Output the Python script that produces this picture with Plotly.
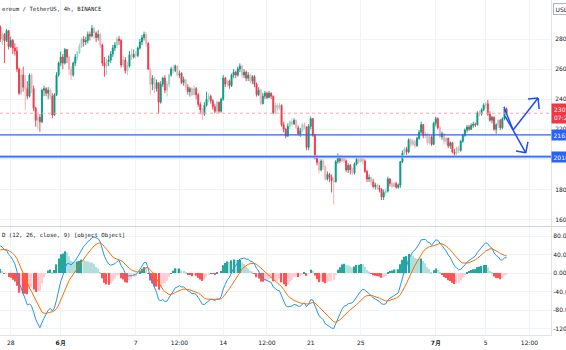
import plotly.graph_objects as go
from datetime import datetime, timedelta

# ---------------- data (ETH/USDT 4h) ----------------
start_time = datetime(2021, 5, 27, 4, 0)
first_open = 2880

closes = [
    2800, 2830, 2790, 2855, 2750, 2790, 2740, 2720, 2600, 2440,
    2560, 2480, 2470, 2420, 2560, 2470, 2340, 2260, 2280, 2250,
    2460, 2470, 2440, 2460, 2420, 2295, 2428, 2560, 2640, 2680,
    2640, 2730, 2680, 2600, 2560, 2640, 2680, 2710, 2750, 2800,
    2780, 2790, 2830, 2820, 2870, 2840, 2810, 2830, 2760, 2640,
    2620, 2650, 2660, 2700, 2740, 2760, 2800, 2790, 2627, 2660,
    2590, 2620, 2695, 2680, 2700, 2690, 2740, 2780, 2810, 2830,
    2770, 2600, 2500, 2540, 2470, 2510, 2380, 2500, 2540, 2460,
    2500, 2560, 2600, 2590, 2620, 2560, 2570, 2510, 2530, 2480,
    2450, 2470, 2430, 2470, 2430, 2365, 2330, 2300, 2360, 2400,
    2420, 2390, 2350, 2320, 2380, 2320, 2400, 2540, 2500, 2520,
    2490, 2560, 2580, 2560, 2600, 2620, 2560, 2580, 2540, 2560,
    2520, 2550, 2500, 2430, 2460, 2370, 2420, 2440, 2410, 2440,
    2420, 2310, 2360, 2340, 2360, 2230, 2200, 2155, 2220, 2250,
    2235, 2260, 2210, 2170, 2190, 2230, 2215, 2080, 2220, 2270,
    2160, 2010, 1980, 1930, 1990, 1950, 1870, 1900, 1880, 1860,
    1850, 1985, 2010, 1990, 2020, 1990, 1930, 1960, 1930, 1910,
    1970, 2000, 1985, 2005, 1990, 1920, 1870, 1880, 1850, 1820,
    1830, 1810, 1800, 1750, 1780, 1790, 1870, 1840, 1820, 1840,
    1815, 1830, 1985, 2040, 2070, 2050, 2130, 2100, 2120, 2090,
    2140, 2180, 2230, 2160, 2170, 2110, 2150, 2100, 2240, 2270,
    2210, 2150, 2170, 2120, 2140, 2090, 2110, 2050, 2040, 2075,
    2060, 2120, 2160, 2195, 2215, 2200, 2225, 2235, 2230, 2310,
    2300, 2330, 2360, 2370, 2300, 2260, 2280, 2200, 2230, 2260,
    2210, 2270, 2335, 2307,
]
highs = [
    2890, 2850, 2840, 2866, 2860, 2815, 2800, 2770, 2749, 2610,
    2600, 2616, 2561, 2520, 2572, 2570, 2490, 2350, 2300, 2300,
    2470, 2490, 2480, 2480, 2472, 2440, 2440, 2580, 2650, 2716,
    2700, 2740, 2730, 2690, 2620, 2650, 2700, 2720, 2770, 2810,
    2820, 2815, 2850, 2850, 2893, 2880, 2850, 2860, 2840, 2770,
    2680, 2670, 2690, 2720, 2760, 2780, 2815, 2820, 2800, 2690,
    2680, 2650, 2720, 2738, 2730, 2720, 2750, 2800, 2827, 2849,
    2845, 2780, 2610, 2560, 2550, 2530, 2510, 2520, 2550, 2561,
    2520, 2570, 2616, 2627, 2630, 2625, 2590, 2580, 2550, 2530,
    2500, 2483, 2480, 2490, 2480, 2440, 2380, 2340, 2380, 2450,
    2440, 2430, 2400, 2370, 2390, 2384, 2410, 2560, 2550, 2530,
    2530, 2570, 2600, 2590, 2616, 2638, 2630, 2600, 2590, 2580,
    2570, 2560, 2560, 2510, 2480, 2470, 2440, 2455, 2450, 2455,
    2445, 2425, 2380, 2373, 2375, 2365, 2250, 2210, 2240, 2260,
    2273, 2273, 2265, 2225, 2210, 2240, 2245, 2220, 2235, 2284,
    2275, 2170, 2030, 2000, 2000, 2000, 1960, 1920, 1910, 1900,
    1880, 1995, 2040, 2030, 2030, 2025, 2000, 1975, 1970, 1945,
    1980, 2010, 2010, 2018, 2018, 2000, 1930, 1900, 1885, 1870,
    1845, 1840, 1830, 1810, 1800, 1805, 1885, 1875, 1860, 1850,
    1852, 1840, 1990, 2060, 2080, 2084, 2140, 2140, 2135, 2130,
    2150, 2195, 2251, 2235, 2185, 2175, 2165, 2160, 2250, 2284,
    2280, 2220, 2185, 2175, 2150, 2145, 2120, 2115, 2070, 2085,
    2090, 2130, 2170, 2205, 2229, 2230, 2240, 2250, 2245, 2320,
    2325, 2340, 2373, 2380, 2395, 2320, 2290, 2285, 2240, 2265,
    2270, 2280, 2350, 2345,
]
lows = [
    2780, 2760, 2640, 2780, 2730, 2740, 2700, 2690, 2580, 2428,
    2430, 2450, 2328, 2400, 2410, 2440, 2320, 2217, 2200, 2184,
    2240, 2420, 2420, 2400, 2400, 2273, 2290, 2420, 2550, 2620,
    2600, 2630, 2640, 2560, 2527, 2550, 2620, 2660, 2700, 2740,
    2750, 2760, 2770, 2790, 2810, 2800, 2780, 2790, 2740, 2620,
    2550, 2560, 2620, 2640, 2680, 2720, 2740, 2760, 2610, 2610,
    2570, 2560, 2610, 2660, 2670, 2672, 2680, 2730, 2760, 2790,
    2750, 2594, 2428, 2460, 2440, 2450, 2302, 2370, 2480, 2440,
    2417, 2480, 2550, 2570, 2580, 2550, 2540, 2500, 2490, 2460,
    2430, 2417, 2420, 2430, 2400, 2350, 2300, 2262, 2290, 2350,
    2380, 2370, 2330, 2306, 2310, 2306, 2310, 2390, 2480, 2483,
    2470, 2480, 2540, 2540, 2550, 2580, 2540, 2540, 2520, 2520,
    2505, 2500, 2480, 2417, 2420, 2361, 2365, 2400, 2400, 2410,
    2400, 2300, 2300, 2320, 2330, 2217, 2180, 2140, 2150, 2200,
    2220, 2230, 2200, 2160, 2150, 2180, 2200, 2062, 2060, 2200,
    2150, 2000, 1960, 1907, 1920, 1930, 1860, 1860, 1850, 1780,
    1700, 1850, 1970, 1975, 1980, 1975, 1915, 1910, 1900, 1896,
    1900, 1960, 1970, 1980, 1970, 1910, 1850, 1850, 1830, 1808,
    1800, 1797, 1780, 1730, 1730, 1760, 1780, 1820, 1808, 1815,
    1805, 1805, 1810, 1975, 2030, 2030, 2040, 2080, 2090, 2073,
    2085, 2130, 2170, 2140, 2140, 2096, 2100, 2090, 2096, 2220,
    2200, 2140, 2130, 2100, 2096, 2075, 2070, 2040, 2018, 2030,
    2040, 2050, 2110, 2150, 2180, 2190, 2195, 2210, 2215, 2225,
    2285, 2290, 2320, 2340, 2290, 2250, 2240, 2190, 2170, 2210,
    2195, 2200, 2260, 2295,
]
# candles drawn in the pale (low-volume) shade
faded_idx = [
    1, 10, 12, 15, 18, 24, 33, 34, 37, 38, 39, 45, 48, 51, 56, 59, 61,
    63, 65, 70, 72, 74, 80, 81, 83, 85, 89, 92, 93, 97, 100, 104, 109, 116, 120,
    125, 132, 133, 134, 139, 140, 142, 145, 146, 153, 155, 156, 160, 164, 165,
    169, 172, 173, 174, 178, 181, 185, 188, 189, 194, 197, 198, 199, 204, 205,
    206, 211, 213, 214, 219, 220, 230, 233, 239,
]

# MACD (12, 26, close, 9) state carried in from before the visible window
ema_fast_init = 2815.0
ema_slow_init = 2750.0
signal_init = 48.0

# horizontal levels drawn on the chart
level_lines = [2163, 2018]
last_price = 2307

# hand-drawn arrows (time, price) polylines
arrow_strokes = [
    [("2021-07-06 11:00", 2348), ("2021-07-07 04:30", 2195), ("2021-07-09 04:30", 2408)],
    [("2021-07-06 13:00", 2288), ("2021-07-07 04:30", 2195), ("2021-07-08 04:50", 2044)],
    [("2021-07-08 09:00", 2401), ("2021-07-09 04:30", 2408), ("2021-07-09 06:30", 2335)],
    [("2021-07-07 10:00", 2056), ("2021-07-08 04:50", 2044), ("2021-07-08 09:00", 2116)],
]

x_ticks = ["2021-05-28", "2021-06-01", "2021-06-07", "2021-06-10 12:00", "2021-06-14",
           "2021-06-17 12:00", "2021-06-21", "2021-06-25", "2021-07-01", "2021-07-05",
           "2021-07-08 12:00"]
x_ticktext = ["28", "<b>6月</b>", "7", "12:00", "14", "12:00", "21", "25", "<b>7月</b>", "5", "12:00"]
price_ticks = [1600, 1800, 2000, 2200, 2400, 2600, 2800]
macd_ticks = [-120, -80, -40, 0, 40, 80]
macd_ticktext = ["-120.0", "-80.00", "-40.00", "0.00", "40.00", "80.00"]

# ---------------- derived ----------------
n = len(closes)
times = [start_time + timedelta(hours=4 * i) for i in range(n)]
opens = [first_open] + closes[:-1]
highs = [max(h, o, c) for h, o, c in zip(highs, opens, closes)]
lows = [min(l, o, c) for l, o, c in zip(lows, opens, closes)]

a12, a26, a9 = 2 / 13, 2 / 27, 2 / 10
ef, es, sg = ema_fast_init, ema_slow_init, signal_init
macd, signal, hist = [], [], []
for c in closes:
    ef = ef + a12 * (c - ef)
    es = es + a26 * (c - es)
    m = ef - es
    sg = sg + a9 * (m - sg)
    macd.append(m)
    signal.append(sg)
    hist.append(m - sg)

hist_colors = []
for i, h in enumerate(hist):
    prev = hist[i - 1] if i > 0 else h
    if h >= 0:
        hist_colors.append("#26A69A" if h >= prev else "#B2DFDB")
    else:
        hist_colors.append("#FF5252" if h < prev else "#FFCDD2")

GREEN = "#089981"
RED = "#F23645"
GREEN_PALE = "#8FD3CB"
RED_PALE = "#F9A9AF"
GRID = "#F0F3FA"
TXT = "#131722"
FONT = "DejaVu Sans"

faded_set = set(faded_idx)
groups = {
    "solid": [i for i in range(n) if i not in faded_set],
    "pale": [i for i in range(n) if i in faded_set],
}

fig = go.Figure()
for name, idx in groups.items():
    g, r = (GREEN, RED) if name == "solid" else (GREEN_PALE, RED_PALE)
    fig.add_trace(go.Candlestick(
        x=[times[i] for i in idx], open=[opens[i] for i in idx], high=[highs[i] for i in idx],
        low=[lows[i] for i in idx], close=[closes[i] for i in idx],
        increasing=dict(line=dict(color=g, width=0.9), fillcolor=g),
        decreasing=dict(line=dict(color=r, width=0.9), fillcolor=r),
        xaxis="x", yaxis="y", showlegend=False, whiskerwidth=0,
    ))
fig.add_trace(go.Bar(x=times, y=hist, marker=dict(color=hist_colors, line=dict(width=0)),
                     xaxis="x2", yaxis="y2", showlegend=False))
fig.add_trace(go.Scatter(x=times, y=macd, mode="lines", line=dict(color="#2196F3", width=1),
                         xaxis="x2", yaxis="y2", showlegend=False))
fig.add_trace(go.Scatter(x=times, y=signal, mode="lines", line=dict(color="#FF6D00", width=1),
                         xaxis="x2", yaxis="y2", showlegend=False))

x_range = ["2021-05-27 03:27", "2021-07-10 05:17"]
common_x = dict(type="date", range=x_range, tickvals=x_ticks, showgrid=True, gridcolor=GRID,
                gridwidth=1, zeroline=False, fixedrange=True)
tickfont = dict(size=6, color=TXT, family=FONT)

fig.update_layout(
    width=566, height=350,
    margin=dict(l=0, r=15, t=0, b=15),
    paper_bgcolor="white", plot_bgcolor="white",
    bargap=0.4,
    xaxis=dict(**common_x, domain=[0, 1], anchor="y", showticklabels=False,
               rangeslider=dict(visible=False)),
    xaxis2=dict(**common_x, domain=[0, 1], anchor="y2", ticktext=x_ticktext,
                ticks="", tickfont=tickfont, ticklabelstandoff=2,
                showline=True, linecolor="#E0E3EB", matches="x"),
    yaxis=dict(domain=[0.3254, 1], range=[1557.4, 3059.2], side="right", tickvals=price_ticks,
               showgrid=True, gridcolor=GRID, zeroline=False, ticks="", tickfont=tickfont,
               showline=True, linecolor="#E0E3EB", automargin=False, ticklabelstandoff=2),
    yaxis2=dict(domain=[0, 0.3224], range=[-133.5, 99.5], side="right", tickvals=macd_ticks,
                ticktext=macd_ticktext, showgrid=True, gridcolor=GRID, zeroline=False, ticks="",
                tickfont=tickfont, showline=True, linecolor="#E0E3EB", automargin=False,
                ticklabelstandoff=0),
)

shapes = []
shapes.append(dict(type="line", xref="paper", yref="paper", x0=0, x1=1.03, y0=0.3239, y1=0.3239,
                   line=dict(color="#D1D4DC", width=1)))
shapes.append(dict(type="line", xref="paper", yref="y", x0=0, x1=1, y0=last_price, y1=last_price,
                   line=dict(color="#F7A5AC", width=1, dash="dot")))
shapes.append(dict(type="line", xref="paper", yref="y", x0=0, x1=1, y0=level_lines[0], y1=level_lines[0],
                   line=dict(color="#2962FF", width=1.2)))
shapes.append(dict(type="line", xref="paper", yref="y", x0=0, x1=1, y0=level_lines[1], y1=level_lines[1],
                   line=dict(color="#9DB8FF", width=3)))
shapes.append(dict(type="line", xref="paper", yref="y", x0=0, x1=1, y0=level_lines[1], y1=level_lines[1],
                   line=dict(color="#2962FF", width=1)))
for stroke in arrow_strokes:
    for (t0, p0), (t1, p1) in zip(stroke[:-1], stroke[1:]):
        shapes.append(dict(type="line", xref="x", yref="y", x0=t0, y0=p0, x1=t1, y1=p1,
                           line=dict(color="#1E4BFF", width=1.5)))
fig.update_layout(shapes=shapes)

ann = []
ann.append(dict(xref="paper", yref="paper", x=0, y=1, xanchor="left", yanchor="top", yshift=-4,
                text="ereum / TetherUS, 4h, BINANCE", showarrow=False,
                font=dict(size=5.7, color=TXT, family="DejaVu Sans Mono")))
ann.append(dict(xref="paper", yref="paper", x=0, y=0.3224, xanchor="left", yanchor="top", yshift=-3,
                text="D (12, 26, close, 9) [object Object]", showarrow=False,
                font=dict(size=5.7, color=TXT, family="DejaVu Sans Mono")))
ann.append(dict(xref="paper", yref="y", x=1, y=last_price, xanchor="left", yanchor="middle", xshift=0,
                text=f"{last_price}<br>07:22", showarrow=False, bgcolor=RED, borderpad=2,
                font=dict(size=6, color="white", family=FONT), align="left"))
for lv in level_lines:
    ann.append(dict(xref="paper", yref="y", x=1, y=lv, xanchor="left", yanchor="middle",
                    text=str(lv), showarrow=False, bgcolor="#2962FF", borderpad=1.5,
                    font=dict(size=6, color="white", family=FONT)))
ann.append(dict(xref="paper", yref="paper", x=1, y=1, xanchor="left", yanchor="top", xshift=2, yshift=-3,
                text="USD", showarrow=False, bordercolor="#B2B5BE", borderwidth=1, borderpad=1.5,
                font=dict(size=6, color=TXT, family=FONT)))
fig.update_layout(annotations=ann)

fig.write_html("out.html")
